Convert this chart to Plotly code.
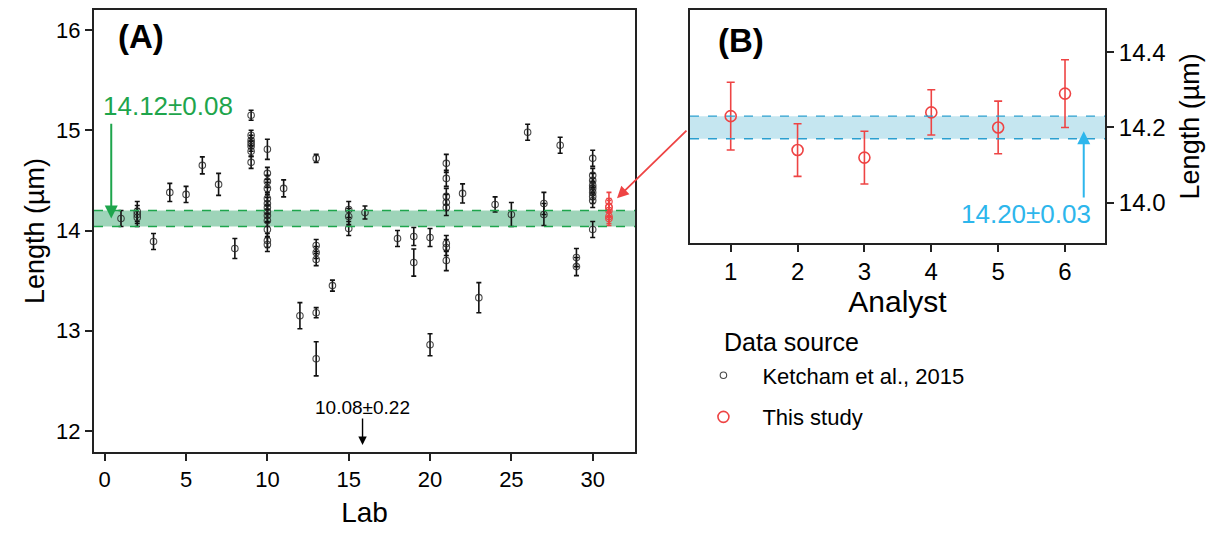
import plotly.graph_objects as go

# ---------------- data ----------------
ketcham_lab = [1,
               2, 2, 2,
               3, 4, 5, 6, 7, 8,
               9, 9, 9, 9, 9, 9, 9,
               10, 10, 10, 10, 10, 10, 10, 10, 10, 10, 10, 10, 10,
               11, 12,
               13, 13, 13, 13, 13, 13,
               14,
               15, 15, 15,
               16, 16,
               18,
               19, 19,
               20, 20,
               21, 21, 21, 21, 21, 21, 21, 21,
               22, 23, 24, 25, 26,
               27, 27,
               28,
               29, 29,
               30, 30, 30, 30, 30, 30, 30, 30, 30]
ketcham_len = [14.12,
               14.19, 14.13, 14.16,
               13.89, 14.38, 14.36, 14.65, 14.46, 13.82,
               15.15, 14.95, 14.90, 14.87, 14.84, 14.79, 14.68,
               14.81, 14.57, 14.49, 14.42, 14.32, 14.27, 14.23, 14.19, 14.15, 14.10, 14.01, 13.90, 13.86,
               14.42, 13.15,
               14.72, 13.85, 13.78, 13.71, 13.18, 12.72,
               13.45,
               14.21, 14.14, 14.02,
               14.18, 10.08,
               13.92,
               13.94, 13.68,
               13.93, 12.86,
               14.67, 14.52, 14.34, 14.28, 14.23, 13.87, 13.83, 13.70,
               14.37, 13.33, 14.26, 14.16, 14.98,
               14.27, 14.16,
               14.85,
               13.73, 13.64,
               14.72, 14.55, 14.50, 14.45, 14.42, 14.38, 14.34, 14.30, 14.01]
ketcham_err = [0.08,
               0.10, 0.09, 0.09,
               0.08, 0.09, 0.08, 0.085, 0.11, 0.10,
               0.05, 0.05, 0.05, 0.05, 0.05, 0.05, 0.06,
               0.10, 0.06, 0.06, 0.06, 0.06, 0.06, 0.06, 0.06, 0.06, 0.06, 0.07, 0.07, 0.07,
               0.085, 0.13,
               0.04, 0.06, 0.06, 0.06, 0.05, 0.17,
               0.055,
               0.08, 0.08, 0.07,
               0.065, 0.22,
               0.08,
               0.09, 0.135,
               0.09, 0.11,
               0.09, 0.08, 0.08, 0.08, 0.08, 0.08, 0.08, 0.10,
               0.095, 0.15, 0.075, 0.12, 0.08,
               0.11, 0.11,
               0.08,
               0.09, 0.09,
               0.08, 0.07, 0.07, 0.07, 0.07, 0.07, 0.07, 0.07, 0.08]

study_lab = 31
analyst = [1, 2, 3, 4, 5, 6]
study_len = [14.23, 14.14, 14.12, 14.24, 14.20, 14.29]
study_err = [0.09, 0.07, 0.07, 0.06, 0.07, 0.09]

ketcham_mean, ketcham_sd = 14.12, 0.08
study_mean, study_sd = 14.20, 0.03
offscale_mean, offscale_sd = 10.08, 0.22

x_ticks_a = [0, 5, 10, 15, 20, 25, 30]
y_ticks_a = [12, 13, 14, 15, 16]
y_ticks_b = [14.0, 14.2, 14.4]

# ---------------- style ----------------
FONT = "Arial, Liberation Sans, sans-serif"
BLACK = "#111111"
RED = "#EE4444"
GREEN = "#1EA54C"
BLUE = "#2DB6EC"

fig = go.Figure()

fig.add_trace(go.Scatter(
    x=ketcham_lab, y=ketcham_len, mode="markers",
    name="Ketcham et al., 2015", legendgroup="k",
    marker=dict(symbol="circle-open", size=6.5, color="rgba(40,40,40,0.85)", line=dict(width=1.1)),
    error_y=dict(type="data", array=ketcham_err, color=BLACK, thickness=1.6, width=2.5),
    xaxis="x", yaxis="y"))

fig.add_trace(go.Scatter(
    x=[study_lab] * len(study_len), y=study_len, mode="markers",
    name="This study", legendgroup="s", showlegend=False,
    marker=dict(symbol="circle-open", size=6.5, color=RED, line=dict(width=1.1)),
    error_y=dict(type="data", array=study_err, color=RED, thickness=1.6, width=2.5),
    xaxis="x", yaxis="y"))

fig.add_trace(go.Scatter(
    x=analyst, y=study_len, mode="markers",
    name="This study", legendgroup="s",
    marker=dict(symbol="circle-open", size=11, color=RED, line=dict(width=1.6)),
    error_y=dict(type="data", array=study_err, color=RED, thickness=1.6, width=4),
    xaxis="x2", yaxis="y2"))

# bands
shapes = [
    dict(type="rect", xref="x domain", yref="y", x0=0, x1=1,
         y0=ketcham_mean - ketcham_sd, y1=ketcham_mean + ketcham_sd,
         fillcolor="rgba(40,160,100,0.45)", line=dict(width=0), layer="below"),
    dict(type="line", xref="x domain", yref="y", x0=0, x1=1,
         y0=ketcham_mean - ketcham_sd, y1=ketcham_mean - ketcham_sd,
         line=dict(color=GREEN, width=1.6, dash="dash")),
    dict(type="line", xref="x domain", yref="y", x0=0, x1=1,
         y0=ketcham_mean + ketcham_sd, y1=ketcham_mean + ketcham_sd,
         line=dict(color=GREEN, width=1.6, dash="dash")),
    dict(type="rect", xref="x2 domain", yref="y2", x0=0, x1=1,
         y0=study_mean - study_sd, y1=study_mean + study_sd,
         fillcolor="rgba(140,205,225,0.5)", line=dict(width=0), layer="below"),
    dict(type="line", xref="x2 domain", yref="y2", x0=0, x1=1,
         y0=study_mean - study_sd, y1=study_mean - study_sd,
         line=dict(color="#2A9FD0", width=1.3, dash="dash")),
    dict(type="line", xref="x2 domain", yref="y2", x0=0, x1=1,
         y0=study_mean + study_sd, y1=study_mean + study_sd,
         line=dict(color="#2A9FD0", width=1.3, dash="dash")),
]

annotations = [
    dict(text="<b>(A)</b>", xref="paper", yref="paper", x=0.0465, y=0.939,
         xanchor="center", yanchor="middle",
         showarrow=False, font=dict(size=33, color="black", family=FONT)),
    dict(text="<b>(B)</b>", xref="paper", yref="paper", x=0.640, y=0.932,
         xanchor="center", yanchor="middle",
         showarrow=False, font=dict(size=33, color="black", family=FONT)),
    # green
    dict(text=f"{ketcham_mean:.2f}±{ketcham_sd:.2f}", xref="x", yref="y", x=3.9, y=15.24,
         xanchor="center", yanchor="middle",
         showarrow=False, font=dict(size=26, color=GREEN, family=FONT)),
    dict(text="", xref="x", yref="y", x=0.4, y=14.12, axref="x", ayref="y", ax=0.4, ay=15.08,
         showarrow=True, arrowhead=2, arrowsize=1.3, arrowwidth=2, arrowcolor=GREEN),
    # off-scale lab
    dict(text=f"{offscale_mean:.2f}±{offscale_sd:.2f}", xref="x", yref="y", x=15.85, y=12.23,
         xanchor="center", yanchor="middle",
         showarrow=False, font=dict(size=19, color="black", family=FONT)),
    dict(text="", xref="x", yref="y", x=15.85, y=11.86, axref="x", ayref="y", ax=15.85, ay=12.14,
         showarrow=True, arrowhead=2, arrowsize=1.2, arrowwidth=1.4, arrowcolor="black"),
    # blue
    dict(text=f"{study_mean:.2f}±{study_sd:.2f}", xref="x2", yref="y2", x=5.42, y=13.97,
         xanchor="center", yanchor="middle",
         showarrow=False, font=dict(size=26, color=BLUE, family=FONT)),
    dict(text="", xref="x2", yref="y2", x=6.28, y=14.19, axref="x2", ayref="y2", ax=6.28, ay=14.01,
         showarrow=True, arrowhead=2, arrowsize=1.3, arrowwidth=2, arrowcolor=BLUE),
    # red connector
    dict(text="", xref="paper", yref="paper", x=0.5173, y=0.5743, ax=71, ay=-69,
         showarrow=True, arrowhead=2, arrowsize=1.3, arrowwidth=1.8, arrowcolor=RED),
    # legend title
    dict(text="Data source", xref="paper", yref="paper", x=0.621, y=0.25,
         xanchor="left", yanchor="middle",
         showarrow=False, font=dict(size=25, color="black", family=FONT)),
]

axis_common = dict(showline=True, linecolor="#222222", linewidth=2, mirror=True,
                   ticks="outside", ticklen=7, tickwidth=2, tickcolor="#222222",
                   showgrid=False, zeroline=False)

fig.update_layout(
    width=1223, height=533,
    margin=dict(l=86, r=126, t=0, b=89),
    plot_bgcolor="white", paper_bgcolor="white",
    font=dict(family=FONT, color="black"),
    shapes=shapes, annotations=annotations,
    xaxis=dict(domain=[0, 0.5351], range=[-0.66, 32.6], tickvals=x_ticks_a,
               tickfont=dict(size=22, color="black", family=FONT),
               title=dict(text="Lab", font=dict(size=28, family=FONT), standoff=11),
               anchor="y", **axis_common),
    yaxis=dict(domain=[0, 1], range=[11.79, 16.2], tickvals=y_ticks_a,
               tickfont=dict(size=22, color="black", family=FONT),
               title=dict(text="Length (µm)", font=dict(size=27, family=FONT), standoff=4),
               anchor="x", **axis_common),
    xaxis2=dict(domain=[0.5895, 1], range=[0.391, 6.598], tickvals=analyst,
                tickfont=dict(size=24, color="black", family=FONT),
                title=dict(text="Analyst", font=dict(size=30, family=FONT), standoff=0),
                anchor="y2", **axis_common),
    yaxis2=dict(domain=[0.4736, 1], range=[13.894, 14.512], tickvals=y_ticks_b,
                tickformat=".1f", side="right",
                tickfont=dict(size=24, color="black", family=FONT),
                title=dict(text="Length (µm)", font=dict(size=27, family=FONT), standoff=16),
                anchor="x2", **axis_common),
    legend=dict(x=0.584, y=0.2207, xanchor="left", yanchor="top",
                font=dict(size=22, family=FONT), tracegroupgap=10, itemwidth=68,
                bgcolor="rgba(0,0,0,0)"),
    showlegend=True,
)

fig.write_html("out.html")
